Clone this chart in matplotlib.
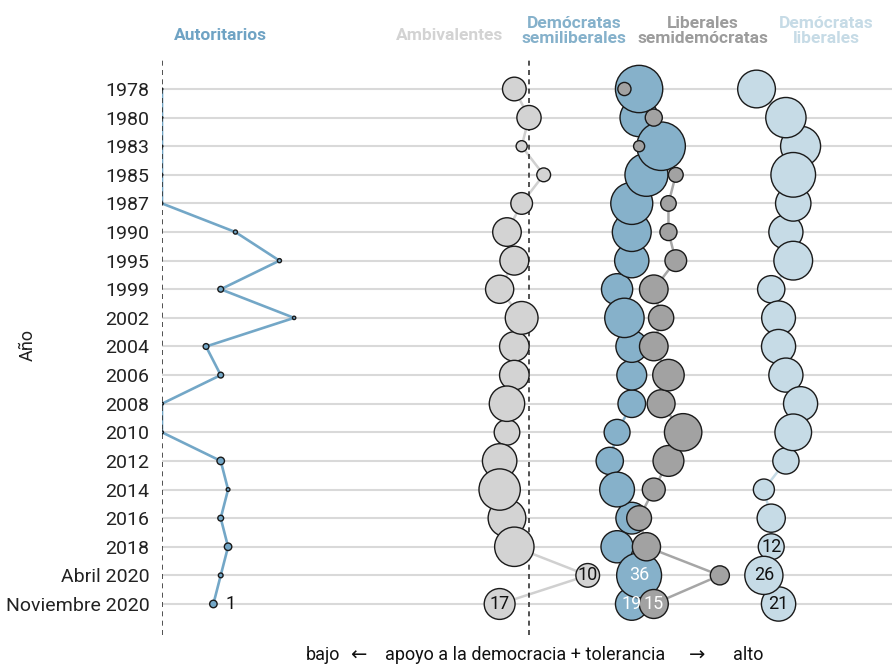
import matplotlib
matplotlib.use("Agg")
import matplotlib.pyplot as plt
import numpy as np

plt.rcParams['font.family'] = ['Roboto', 'DejaVu Sans']

years = ["1978", "1980", "1983", "1985", "1987", "1990", "1995", "1999", "2002",
         "2004", "2006", "2008", "2010", "2012", "2014", "2016", "2018",
         "Abril 2020", "Noviembre 2020"]

# x = apoyo a la democracia + tolerancia ; pct = tamaño del grupo (%)
aut_x = [0, 0, 0, 0, 0, 10, 16, 8, 18, 6, 8, 0, 0, 8, 9, 8, 9, 8, 7]
aut_pct = [0.05, 0.05, 0.05, 0.05, 0.05, 0.3, 0.3, 0.6, 0.2, 0.6, 0.6, 0.15, 0.15,
           1, 0.25, 0.6, 1, 0.4, 1]

amb_x = [48, 50, 49, 52, 49, 47, 48, 46, 49, 48, 48, 47, 47, 46, 46, 47, 48, 58, 46]
amb_pct = [10, 10.5, 2.2, 3.4, 8.4, 14.6, 14.9, 14.2, 19.2, 15.6, 15.6, 22.4, 11.7,
           21.2, 30.5, 25.4, 27.7, 10, 17]

semi_x = [65, 65, 68, 66, 64, 64, 64, 62, 63, 64, 64, 64, 62, 61, 62, 64, 62, 65, 64]
semi_pct = [40, 26, 42, 33, 31.5, 27, 21, 17.4, 27.7, 18, 15.9, 13.6, 12, 13.3,
            21.6, 18, 18.5, 36, 19]

lib_x = [63, 67, 65, 70, 69, 69, 70, 67, 68, 67, 69, 68, 71, 69, 67, 65, 66, 76, 67]
lib_pct = [3.1, 5.2, 2.2, 3.9, 4.3, 5.2, 8.4, 14.6, 11.4, 14.6, 17.7, 13.9, 25, 17,
           9.4, 11, 14.2, 6.5, 15]

dl_x = [81, 85, 87, 86, 86, 85, 86, 83, 84, 84, 85, 87, 86, 85, 82, 83, 83, 82, 84]
dl_pct = [25.4, 29, 28.6, 35.6, 22.4, 20.8, 26.8, 13.3, 20.4, 20.8, 20.8, 20.8, 24,
          12.3, 7.9, 14.2, 12, 26, 21]

group_names = ["Autoritarios", "Ambivalentes", "Demócratas\nsemiliberales",
               "Liberales\nsemidemócratas", "Demócratas\nliberales"]

# labelled points: (row index, text)
labels_aut = [(18, "1")]
labels_amb = [(17, "10"), (18, "17")]
labels_semi = [(17, "36"), (18, "19")]
labels_lib = [(18, "15")]
labels_dl = [(16, "12"), (17, "26"), (18, "21")]

W, H = 892, 666
fig = plt.figure(figsize=(W / 100, H / 100), dpi=100)


def fx(px):
    return px / W


def fy(py):
    return 1 - py / H


ax_left, ax_top, ax_bottom = 162, 60, 635
ax = fig.add_axes([fx(ax_left), fy(ax_bottom), (W - ax_left) / W, (ax_bottom - ax_top) / H])
px_per_unit = 7.34
xmax = (W - ax_left) / px_per_unit
row0, row_step = 89, 28.61
ax.set_xlim(0, xmax)
ax.set_ylim((ax_bottom - row0) / row_step, (ax_top - row0) / row_step)

rows = np.arange(len(years))
ax.hlines(rows, 0, xmax, color="#d9d9d9", lw=1.5, zorder=0)
for xv in (0, 50):
    ax.axvline(xv, color="#333333", lw=1.2, ls=(0, (3, 2.6)), zorder=2.5)

for s in ax.spines.values():
    s.set_visible(False)
ax.set_xticks([])
ax.set_yticks(rows)
ax.set_yticklabels(years, fontsize=14, color="#222222")
ax.tick_params(axis="y", length=0, pad=9)

c_aut = "#73a7c7"
c_amb = "#d3d3d3"
c_semi = "#86b1ca"
c_lib = "#a2a2a2"
c_dl = "#c6dbe6"
edge = "#1a1a1a"
k = 29.0

series = [
    (aut_x, aut_pct, c_aut, c_aut, 1.9, 3, labels_aut),
    (amb_x, amb_pct, c_amb, "#d0d0d0", 1.8, 4, labels_amb),
    (semi_x, semi_pct, c_semi, c_semi, 1.8, 5, labels_semi),
    (lib_x, lib_pct, c_lib, "#a6a6a6", 1.8, 6, labels_lib),
    (dl_x, dl_pct, c_dl, c_dl, 1.8, 7, labels_dl),
]

for xs, ps, fc, lc, lw, z, labs in series:
    xs = np.array(xs, float)
    ps = np.array(ps, float)
    ax.plot(xs, rows, color=lc, lw=lw, zorder=1, solid_capstyle="round")
    order = np.argsort(ps, kind="stable")
    ax.scatter(xs[order], rows[order], s=k * ps[order], facecolor=fc,
               edgecolor=edge, linewidth=1.0, zorder=z)

# labels
lab_fs = 13
for i, t in labels_aut:
    ax.text(aut_x[i] + 1.6, i, t, fontsize=lab_fs, va="center", ha="left",
            color="#111111", zorder=10)
for i, t in labels_amb:
    ax.text(amb_x[i], i, t, fontsize=lab_fs, va="center", ha="center",
            color="#111111", zorder=10)
for i, t in labels_semi:
    ax.text(semi_x[i], i, t, fontsize=lab_fs, va="center", ha="center",
            color="white", zorder=10)
for i, t in labels_lib:
    ax.text(lib_x[i], i, t, fontsize=lab_fs, va="center", ha="center",
            color="white", zorder=10)
for i, t in labels_dl:
    ax.text(dl_x[i], i, t, fontsize=lab_fs, va="center", ha="center",
            color="#111111", zorder=10)

# headers
hdr = [
    (group_names[0], 220, 35, "#6fa3c4"),
    (group_names[1], 450, 35, "#d3d3d3"),
    (group_names[2], 574, 31, "#85b1cb"),
    (group_names[3], 703, 31, "#9c9c9c"),
    (group_names[4], 826, 31, "#c6dbe6"),
]
for t, x, y, c in hdr:
    fig.text(fx(x), fy(y), t, fontsize=12.5, fontweight="bold", color=c,
             ha="center", va="center", linespacing=1.0)

# axis titles
fig.text(fx(28), fy(345), "Año", fontsize=13, rotation=90, ha="center",
         va="center", color="#222222")
by = fy(655)
fig.text(fx(340), by, "bajo", fontsize=13, ha="right", va="center", color="#111111")
fig.text(fx(358), by, "←", fontsize=14, ha="center", va="center", color="#111111",
         family=["DejaVu Sans"])
fig.text(fx(525), by, "apoyo a la democracia + tolerancia", fontsize=13,
         ha="center", va="center", color="#111111")
fig.text(fx(697), by, "→", fontsize=14, ha="center", va="center", color="#111111",
         family=["DejaVu Sans"])
fig.text(fx(733), by, "alto", fontsize=13, ha="left", va="center", color="#111111")

fig.savefig("out.png", dpi=100)
